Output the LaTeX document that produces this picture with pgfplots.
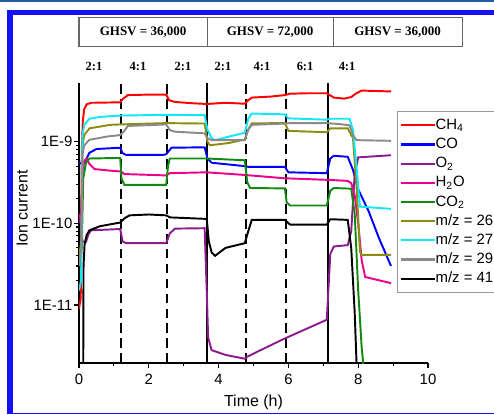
\documentclass[border=0pt]{standalone}
\usepackage{fontspec}
\setmainfont{Liberation Sans}
\newfontfamily\timesfont{Liberation Serif}
\usepackage{pgfplots}
\pgfplotsset{compat=1.18}
\definecolor{frameblue}{HTML}{1212F2}
\definecolor{framedark}{HTML}{2060A8}
\definecolor{co2green}{HTML}{108A10}
\definecolor{violetO}{RGB}{142,27,142}
\definecolor{olive26}{HTML}{8C8C10}
\definecolor{cyan27}{HTML}{10E8F8}
\definecolor{gray29}{HTML}{8A8A8A}
\begin{document}
\begin{tikzpicture}
\useasboundingbox (0,0) rectangle (9.88cm,8.28cm);
\clip (0,0) rectangle (9.88cm,8.28cm);
% frame and header boxes, in pixels of the reference
\begin{scope}[x=0.02cm,y=0.02cm]
  \fill[framedark] (0,411.5) rectangle (494,414);
  \fill[frameblue] (7,0) rectangle (13,404);
  \fill[frameblue] (7,399) rectangle (494,404);
  \fill[frameblue] (7,0) rectangle (494,1.5);
  \draw[black!60, line width=0.6pt] (79,367) rectangle (462,396);
  \draw[black!60, line width=0.6pt] (207,367) -- (207,396);
  \draw[black!60, line width=0.6pt] (333,367) -- (333,396);
  \begin{scope}[every node/.style={font=\timesfont\bfseries\fontsize{7.4}{8}\selectfont}]
    \node at (143,382) {GHSV = 36,000};
    \node at (270,382) {GHSV = 72,000};
    \node at (397.5,382) {GHSV = 36,000};
  \end{scope}
  \begin{scope}[every node/.style={font=\timesfont\bfseries\fontsize{7.1}{8}\selectfont}]
    \node at (94,347) {2:1};
    \node at (138,347) {4:1};
    \node at (183,347) {2:1};
    \node at (223,347) {2:1};
    \node at (262,347) {4:1};
    \node at (305,347) {6:1};
    \node at (347,347) {4:1};
  \end{scope}
\end{scope}
\begin{axis}[
  at={(1.58cm,1.02cm)}, anchor=south west,
  scale only axis, width=6.98cm, height=5.6cm,
  xmin=0, xmax=10, ymin=1.95e-12, ymax=5.2e-9,
  ymode=log,
  axis lines=left,
  axis line style={-, line width=0.8pt},
  xtick={0,2,4,6,8,10}, xticklabels={0,2,4,6,8,10},
  minor xtick={1,3,5,7,9},
  ytick={1e-11,1e-10,1e-9}, yticklabels={1E-11,1E-10,1E-9},
  tick align=outside,
  major tick length=3pt, minor tick length=1.7pt,
  tick style={black, line width=0.6pt},
  ticklabel style={font=\fontsize{8.5}{10}\selectfont},
  yticklabel style={inner xsep=0.6pt},
  /pgf/number format/assume math mode=true,
  xlabel={Time (h)}, ylabel={Ion current},
  label style={font=\fontsize{9.1}{11}\selectfont},
  xlabel style={at={(axis description cs:0.5,-0.14)}, anchor=center},
  ylabel style={at={(axis description cs:-0.163,0.552)}, anchor=center},
  legend cell align=left,
  legend image code/.code={\draw[#1, line width=1.25pt] (0cm,0cm) -- (0.68cm,0cm);},
  legend style={at={(0.911,0.9)}, anchor=north west,
    draw=black!40, line width=0.6pt,
    font=\fontsize{8.5}{9}\selectfont,
    nodes={inner sep=0pt, text height=6.2pt, text depth=1.6pt},
    row sep=3.12pt, inner xsep=1.1pt, inner ysep=3.9pt,
    /tikz/every even column/.append style={column sep=2.3pt}},
  every axis plot/.append style={line width=1.1pt},
]
% step boundaries
\addplot[black, forget plot] coordinates {(3.66,1.95e-12) (3.66,5.2e-9)};
\addplot[black, forget plot] coordinates {(7.14,1.95e-12) (7.14,5.2e-9)};
\addplot[black, dash pattern=on 5.5pt off 3pt, forget plot] coordinates {(1.2,1.95e-12) (1.2,5.2e-9)};
\addplot[black, dash pattern=on 5.5pt off 3pt, forget plot] coordinates {(2.53,1.95e-12) (2.53,5.2e-9)};
\addplot[black, dash pattern=on 5.5pt off 3pt, forget plot] coordinates {(4.79,1.95e-12) (4.79,5.2e-9)};
\addplot[black, dash pattern=on 5.5pt off 3pt, forget plot] coordinates {(5.93,1.95e-12) (5.93,5.2e-9)};
% CH4
\addplot[red] coordinates {(0.0,9e-12) (0.05,1.2e-11) (0.08,8e-10) (0.11,1.8e-9) (0.15,2.5e-9) (0.22,2.85e-9) (0.35,2.98e-9) (0.8,3.0e-9) (1.18,3.02e-9) (1.25,3.3e-9) (1.4,3.7e-9) (2.0,3.75e-9) (2.5,3.75e-9) (2.58,3.2e-9) (2.75,3.05e-9) (3.2,2.95e-9) (3.66,2.88e-9) (4.2,2.98e-9) (4.75,2.9e-9) (4.85,3.2e-9) (4.95,3.45e-9) (5.5,3.55e-9) (5.9,3.7e-9) (6.05,3.85e-9) (6.6,3.9e-9) (7.1,3.9e-9) (7.3,3.45e-9) (7.6,3.35e-9) (7.8,3.5e-9) (7.95,3.9e-9) (8.1,4.2e-9) (8.94,4.1e-9)};
\addlegendentry{CH\textsubscript{4}}
% CO
\addplot[blue] coordinates {(0.0,5.5e-10) (0.05,5.4e-10) (0.1,5.3e-10) (0.2,6e-10) (0.3,7.3e-10) (0.5,8.1e-10) (1.18,8.4e-10) (1.25,7.2e-10) (1.35,6.85e-10) (2.4,6.85e-10) (2.5,7.0e-10) (2.65,8.4e-10) (3.6,8.5e-10) (3.68,6.2e-10) (3.8,5.5e-10) (4.75,5.0e-10) (4.85,4.9e-10) (5.9,4.9e-10) (6.0,4.2e-10) (7.1,4.1e-10) (7.2,6.2e-10) (7.3,6.7e-10) (7.7,6.5e-10) (7.85,4.5e-10) (8.0,2.6e-10) (8.3,1.4e-10) (8.6,6.5e-11) (8.94,3e-11)};
\addlegendentry{CO}
% O2
\addplot[color=violetO] coordinates {(0.0,1.1e-10) (0.05,1.0e-10) (0.1,6e-11) (0.2,5.9e-11) (0.28,7.5e-11) (0.35,8.2e-11) (1.18,8.5e-11) (1.25,6.0e-11) (1.35,5.7e-11) (2.5,5.7e-11) (2.6,7.5e-11) (2.75,8.6e-11) (3.6,8.7e-11) (3.66,1.5e-11) (3.7,4e-12) (3.8,2.8e-12) (4.2,2.45e-12) (4.75,2.2e-12) (4.8,2.3e-12) (5.2,2.8e-12) (5.9,3.9e-12) (6.6,5.3e-12) (7.1,6.6e-12) (7.2,4.2e-11) (7.3,5.2e-11) (7.7,5.4e-11) (7.8,8e-11) (7.9,4e-10) (8.0,6.4e-10) (8.94,6.8e-10)};
\addlegendentry{O\textsubscript{2}}
% H2O
\addplot[magenta] coordinates {(0.0,1.3e-10) (0.05,1.1e-10) (0.1,4e-10) (0.15,5.8e-10) (0.22,6.2e-10) (0.3,5.3e-10) (0.45,4.6e-10) (0.9,4.4e-10) (1.2,4.3e-10) (1.3,4.0e-10) (2.5,3.85e-10) (2.6,4.1e-10) (3.66,4.2e-10) (4.75,3.9e-10) (5.9,3.55e-10) (7.1,3.4e-10) (7.7,3.3e-10) (7.8,3.1e-10) (7.9,2.2e-10) (8.0,1.0e-10) (8.1,3.5e-11) (8.2,2.2e-11) (8.94,1.85e-11)};
\addlegendentry{H\textsubscript{2}O}
% CO2
\addplot[co2green] coordinates {(0.0,3e-11) (0.08,5e-11) (0.12,3.5e-10) (0.2,5.5e-10) (0.3,6.2e-10) (1.18,6.3e-10) (1.22,3.5e-10) (1.3,2.95e-10) (2.5,2.95e-10) (2.55,5e-10) (2.6,6.2e-10) (3.66,6.2e-10) (4.75,5.9e-10) (4.82,3.2e-10) (4.9,2.7e-10) (5.9,2.67e-10) (5.95,1.8e-10) (6.05,1.65e-10) (7.1,1.65e-10) (7.2,2.5e-10) (7.3,2.7e-10) (7.8,2.65e-10) (7.9,1.3e-10) (8.0,1.5e-11) (8.1,3e-12) (8.17,1.5e-12)};
\addlegendentry{CO\textsubscript{2}}
% m/z = 26
\addplot[olive26] coordinates {(0.0,4e-11) (0.07,6e-11) (0.1,9e-10) (0.15,1.2e-9) (0.3,1.45e-9) (0.9,1.6e-9) (1.2,1.62e-9) (2.5,1.68e-9) (3.6,1.66e-9) (3.68,1.0e-9) (3.75,9e-10) (4.3,9.6e-10) (4.75,1.06e-9) (4.85,1.4e-9) (4.95,1.67e-9) (5.9,1.68e-9) (6.0,1.35e-9) (7.1,1.3e-9) (7.2,1.45e-9) (7.7,1.45e-9) (7.85,1.1e-9) (7.95,3e-10) (8.05,4.5e-11) (8.1,4.1e-11) (8.94,4.1e-11)};
\addlegendentry{m/z = 26}
% m/z = 27
\addplot[cyan27] coordinates {(0.0,1.5e-11) (0.06,2e-11) (0.1,1.2e-9) (0.15,1.6e-9) (0.3,1.9e-9) (0.6,2.0e-9) (1.2,2.08e-9) (2.5,2.12e-9) (3.6,2.1e-9) (3.68,1.4e-9) (3.8,1.1e-9) (3.9,1.04e-9) (4.3,1.15e-9) (4.75,1.28e-9) (4.85,1.9e-9) (4.95,2.2e-9) (5.9,2.15e-9) (6.0,1.92e-9) (7.1,1.85e-9) (7.2,1.9e-9) (7.75,1.9e-9) (7.85,1.4e-9) (7.95,5e-10) (8.05,1.6e-10) (8.94,1.5e-10)};
\addlegendentry{m/z = 27}
% m/z = 29
\addplot[gray29] coordinates {(0.0,3e-11) (0.07,5e-11) (0.1,7e-10) (0.15,9e-10) (0.3,1.05e-9) (0.8,1.15e-9) (1.18,1.2e-9) (1.3,1.35e-9) (1.4,1.55e-9) (2.5,1.62e-9) (2.6,1.38e-9) (2.75,1.32e-9) (3.6,1.26e-9) (3.68,1.1e-9) (3.8,1.04e-9) (4.75,1.04e-9) (4.85,1.4e-9) (4.95,1.6e-9) (5.9,1.66e-9) (6.05,1.68e-9) (7.1,1.68e-9) (7.5,1.63e-9) (7.75,1.58e-9) (7.85,1.2e-9) (7.95,1.04e-9) (8.94,1.02e-9)};
\addlegendentry{m/z = 29}
% m/z = 41
\addplot[black] coordinates {(0.12,1.2e-12) (0.13,3e-11) (0.16,5.5e-11) (0.22,7.2e-11) (0.3,8.2e-11) (0.6,9.2e-11) (1.18,1.02e-10) (1.3,1.15e-10) (1.45,1.25e-10) (2.0,1.28e-10) (2.5,1.25e-10) (2.6,1.18e-10) (3.66,1.13e-10) (3.72,6e-11) (3.8,4.4e-11) (3.9,4.0e-11) (4.2,5.0e-11) (4.75,5.7e-11) (4.85,8e-11) (4.95,1.1e-10) (5.9,1.1e-10) (6.05,9.6e-11) (7.1,9.6e-11) (7.2,1.12e-10) (7.7,1.1e-10) (7.8,5e-11) (7.9,8e-12) (7.97,1.2e-12)};
\addlegendentry{m/z = 41}
\end{axis}
\end{tikzpicture}
\end{document}
